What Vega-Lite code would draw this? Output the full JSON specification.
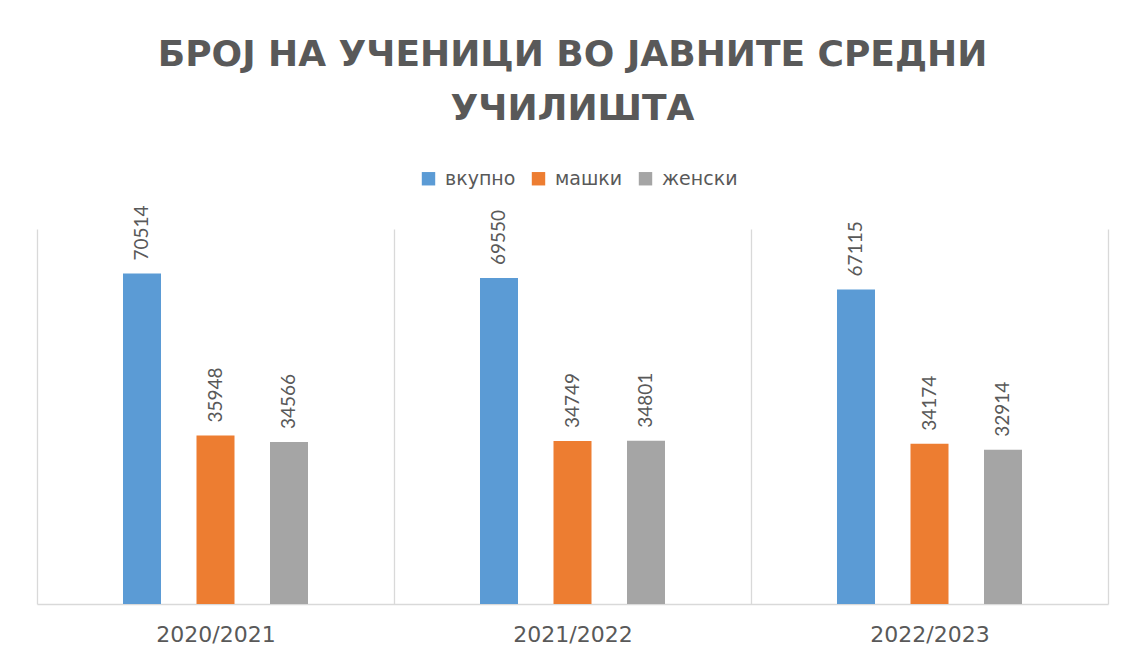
{
  "$schema": "https://vega.github.io/schema/vega-lite/v6.json",
  "width": 1071,
  "height": 375,
  "autosize": "none",
  "padding": {"left": 37, "top": 229, "right": 14, "bottom": 49},
  "background": "white",
  "title": {
    "text": ["БРОЈ НА УЧЕНИЦИ ВО ЈАВНИТЕ СРЕДНИ", "УЧИЛИШТА"],
    "anchor": "middle",
    "font": "DejaVu Sans",
    "fontSize": 36,
    "fontWeight": "bold",
    "color": "#595959",
    "lineHeight": 54,
    "offset": 41
  },
  "data": {
    "values": [
      {"year": "2020/2021", "group": "вкупно", "value": 70514},
      {"year": "2020/2021", "group": "машки", "value": 35948},
      {"year": "2020/2021", "group": "женски", "value": 34566},
      {"year": "2021/2022", "group": "вкупно", "value": 69550},
      {"year": "2021/2022", "group": "машки", "value": 34749},
      {"year": "2021/2022", "group": "женски", "value": 34801},
      {"year": "2022/2023", "group": "вкупно", "value": 67115},
      {"year": "2022/2023", "group": "машки", "value": 34174},
      {"year": "2022/2023", "group": "женски", "value": 32914}
    ]
  },
  "encoding": {
    "x": {
      "field": "year",
      "type": "nominal",
      "scale": {"paddingInner": 0, "paddingOuter": 0},
      "axis": {
        "title": null,
        "labelAngle": 0,
        "labelFont": "DejaVu Sans",
        "labelFontSize": 22,
        "labelColor": "#595959",
        "labelPadding": 20,
        "ticks": false,
        "grid": true,
        "gridColor": "#d9d9d9",
        "gridWidth": 1.3,
        "tickBand": "extent",
        "domainColor": "#d9d9d9",
        "domainWidth": 1.5
      }
    },
    "xOffset": {
      "field": "group",
      "type": "nominal",
      "sort": ["вкупно", "машки", "женски"],
      "scale": {"paddingInner": 0.143, "paddingOuter": 1}
    },
    "y": {
      "field": "value",
      "type": "quantitative",
      "scale": {"domain": [0, 80000]},
      "axis": null
    }
  },
  "layer": [
    {
      "mark": {"type": "bar", "size": 38},
      "encoding": {
        "color": {
          "field": "group",
          "type": "nominal",
          "sort": ["вкупно", "машки", "женски"],
          "scale": {"domain": ["вкупно", "машки", "женски"], "range": ["#5b9bd5", "#ed7d31", "#a5a5a5"]},
          "legend": {
            "title": null,
            "orient": "none",
            "direction": "horizontal",
            "legendX": 382,
            "legendY": -60,
            "symbolType": "square",
            "symbolSize": 180,
            "symbolStrokeWidth": 0,
            "labelFont": "DejaVu Sans",
            "labelFontSize": 19,
            "labelColor": "#595959",
            "columnPadding": 13,
            "labelOffset": 7
          }
        }
      }
    },
    {
      "mark": {
        "type": "text",
        "angle": 270,
        "align": "left",
        "baseline": "middle",
        "dx": 13,
        "font": "Lato",
        "fontSize": 19,
        "color": "#595959"
      },
      "encoding": {
        "text": {"field": "value", "type": "quantitative", "format": "d"}
      }
    }
  ],
  "config": {
    "view": {"stroke": null}
  }
}
